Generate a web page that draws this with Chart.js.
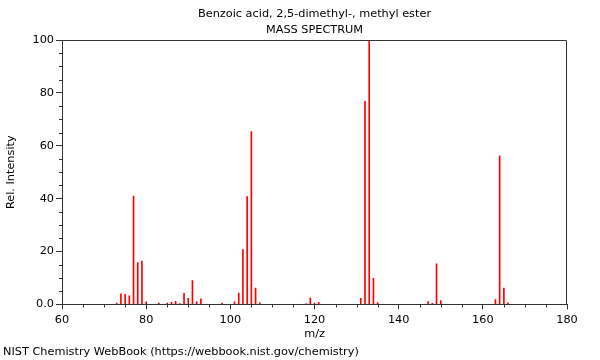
<!DOCTYPE html>
<html>
<head>
<meta charset="utf-8">
<script src="https://cdn.jsdelivr.net/npm/chart.js@4/dist/chart.umd.min.js"></script>
<style>
  html, body { margin: 0; padding: 0; background: #fff; }
  #c { display: block; }
</style>
</head>
<body>
<canvas id="c" width="600" height="360"></canvas>
<script>
// ---- data ----
const titleLines = ["Benzoic acid, 2,5-dimethyl-, methyl ester", "MASS SPECTRUM"];
const footerText = "NIST Chemistry WebBook (https://webbook.nist.gov/chemistry)";
const xLabel = "m/z";
const yLabel = "Rel. Intensity";
const mz = [73, 74, 75, 76, 77, 78, 79, 80, 83, 85, 86, 87, 88, 89, 90, 91, 92, 93, 98,
            101, 102, 103, 104, 105, 106, 107, 118, 119, 120, 121, 131, 132, 133, 134, 135,
            147, 148, 149, 150, 163, 164, 165, 166];
const intensity = [0.5, 4.0, 3.8, 3.3, 41, 15.8, 16.4, 1.0, 0.5, 0.5, 0.8, 1.2, 0.3, 4.2, 2.3, 9.0, 1.1, 2.1, 0.5,
                   1.0, 4.3, 20.7, 40.8, 65.4, 6.2, 0.6, 0.3, 2.4, 0.5, 0.8, 2.3, 76.8, 100, 9.9, 0.7,
                   1.1, 0.4, 15.4, 1.5, 1.8, 56.2, 6.2, 0.6];
const xRange = [60, 180];
const yRange = [0, 100];
const majorStep = 20;
const minorStep = 5;

const FS = 11.3;
Chart.defaults.font.family = "'DejaVu Sans', sans-serif";
Chart.defaults.font.size = FS;
Chart.defaults.color = '#000';

const axisColor = '#333';

const minorTicks = {
  id: 'minorTicks',
  afterDraw(chart) {
    const ctx = chart.ctx;
    const a = chart.chartArea;
    const xs = chart.scales.x, ys = chart.scales.y;
    ctx.save();
    ctx.strokeStyle = axisColor;
    ctx.lineWidth = 1;
    ctx.beginPath();
    for (let v = xRange[0]; v <= xRange[1]; v += minorStep) {
      if (v % majorStep === 0) continue;
      const px = Math.round(xs.getPixelForValue(v)) + 0.5;
      ctx.moveTo(px, a.bottom);
      ctx.lineTo(px, a.bottom + 3);
    }
    for (let v = yRange[0]; v <= yRange[1]; v += minorStep) {
      if (v % majorStep === 0) continue;
      const py = Math.round(ys.getPixelForValue(v)) + 0.5;
      ctx.moveTo(a.left - 3, py);
      ctx.lineTo(a.left, py);
    }
    const t = Math.round(a.top) + 0.5, r = Math.round(a.right) - 0.5;
    ctx.moveTo(a.left, t);
    ctx.lineTo(r, t);
    ctx.lineTo(r, a.bottom);
    ctx.stroke();
    ctx.restore();
  }
};

new Chart(document.getElementById('c'), {
  type: 'bar',
  data: {
    datasets: [{
      data: mz.map((m, i) => ({ x: m, y: intensity[i] })),
      backgroundColor: '#ff0000',
      borderWidth: 0,
      barThickness: 1
    }]
  },
  options: {
    responsive: false,
    animation: false,
    devicePixelRatio: 1,
    layout: { padding: { left: 3, right: 33, top: 0, bottom: 0 } },
    plugins: {
      legend: { display: false },
      tooltip: { enabled: false },
      title: {
        display: true,
        text: titleLines,
        fullSize: false,
        font: { size: FS, weight: 'normal', lineHeight: 16 / FS },
        color: '#000',
        padding: { top: 6, bottom: 2 }
      },
      subtitle: {
        display: true,
        position: 'bottom',
        align: 'start',
        text: footerText,
        fullSize: true,
        font: { size: FS, lineHeight: 1.2 },
        color: '#000',
        padding: { top: 2, bottom: 1 }
      }
    },
    scales: {
      x: {
        type: 'linear',
        offset: false,
        min: xRange[0], max: xRange[1],
        ticks: { stepSize: majorStep, padding: 4, maxRotation: 0, color: '#000' },
        grid: { offset: false, drawOnChartArea: false, tickLength: 5, color: axisColor },
        border: { color: axisColor },
        title: { display: true, text: xLabel, padding: { top: 0, bottom: 3 }, color: '#000' },
        afterFit(s) { s.height = 39; }
      },
      y: {
        min: yRange[0], max: yRange[1],
        ticks: { stepSize: majorStep, padding: 2, color: '#000',
                 callback: (v) => v === 0 ? '0.0' : String(v) },
        grid: { drawOnChartArea: false, tickLength: 6, color: axisColor },
        border: { color: axisColor },
        title: { display: true, text: yLabel, padding: { top: 1, bottom: 0 }, color: '#000' },
        afterFit(s) { s.width = 59; }
      }
    }
  },
  plugins: [minorTicks]
});
</script>
</body>
</html>
